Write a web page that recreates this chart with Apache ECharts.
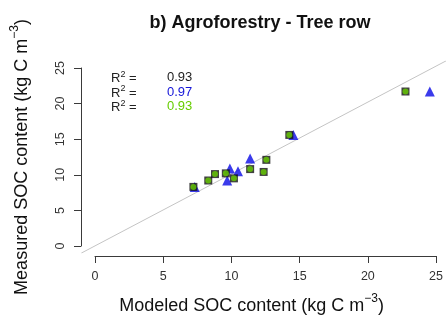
<!DOCTYPE html>
<html>
<head>
<meta charset="utf-8">
<script src="https://cdn.jsdelivr.net/npm/echarts@6/dist/echarts.min.js"></script>
<style>
  html, body { margin: 0; padding: 0; background: #fff; }
  #chart { width: 446px; height: 329px; }
</style>
</head>
<body>
<div id="chart"></div>
<script>
// Tick values shared by both axes
const axisTicks = [0, 5, 10, 15, 20, 25];

// Modeled vs measured SOC (kg C m-3), one pair of arrays per model
const modelBlackX = [7.3, 8.4, 8.9, 9.7, 10.3, 11.5, 12.5, 12.7, 14.4, 23.0];
const modelBlackY = [8.3, 9.2, 10.1, 10.2, 9.5, 10.8, 10.4, 12.1, 15.6, 21.7];
const modelGreenX = [7.3, 8.4, 8.9, 9.7, 10.3, 11.5, 12.5, 12.7, 14.4, 23.0];
const modelGreenY = [8.3, 9.2, 10.1, 10.2, 9.5, 10.8, 10.4, 12.1, 15.6, 21.7];
const modelBlueX = [7.4, 9.8, 10.0, 10.6, 11.5, 14.7, 24.8];
const modelBlueY = [8.3, 9.2, 10.9, 10.5, 12.3, 15.6, 21.7];

// Coefficients of determination, one per model
const r2Labels = ['0.93', '0.97', '0.93'];
const r2Colors = ['#222222', '#1414d8', '#66cd00'];

// 1:1 reference line end points
const identityLine = [-1, 30];

const FONT = 'Liberation Sans, Arial, sans-serif';
const AXIS_COLOR = '#3a3a3a';

function pairs(xs, ys) { return xs.map((x, i) => [x, ys[i]]); }

const chart = echarts.init(document.getElementById('chart'), null, { renderer: 'canvas' });

const r2Graphics = [];
r2Labels.forEach((v, i) => {
  const y = 70 + i * 14.5;
  r2Graphics.push({
    type: 'text', left: 111, top: y,
    style: {
      text: '{r|R}{s|2}{r| = }',
      rich: {
        r: { fontSize: 13, fontFamily: FONT, fill: '#222', verticalAlign: 'bottom', lineHeight: 15 },
        s: { fontSize: 9, fontFamily: FONT, fill: '#222', verticalAlign: 'top', lineHeight: 9 }
      }
    }
  });
  r2Graphics.push({
    type: 'text', left: 167, top: y + 1,
    style: { text: v, fontSize: 13, fontFamily: FONT, fill: r2Colors[i] }
  });
});

const titleRich = {
  a: { fontSize: 18, fontFamily: FONT, color: '#111', lineHeight: 22, verticalAlign: 'bottom' },
  s: { fontSize: 12, fontFamily: FONT, color: '#111', lineHeight: 12, verticalAlign: 'top' }
};

const option = {
  animation: false,
  backgroundColor: '#ffffff',
  title: {
    text: 'b) Agroforestry - Tree row',
    left: 255, top: 9, textAlign: 'center',
    textStyle: { fontFamily: FONT, fontWeight: 'bold', fontSize: 18, color: '#111' }
  },
  grid: [
    // data region (extended a little beyond the tick range)
    { left: 81.3, top: 60.9, width: 368.8, height: 192.2, containLabel: false },
    // axis frame spanning exactly the tick range
    { left: 95, top: 68, width: 341.5, height: 178, containLabel: false }
  ],
  xAxis: [
    { gridIndex: 0, type: 'value', min: -1, max: 26, show: false },
    {
      gridIndex: 1, type: 'value', min: axisTicks[0], max: axisTicks[axisTicks.length - 1], interval: 5,
      offset: 10,
      axisLine: { show: true, onZero: false, lineStyle: { color: AXIS_COLOR, width: 1 } },
      axisTick: { show: true, length: 7, lineStyle: { color: AXIS_COLOR, width: 1 } },
      axisLabel: { fontSize: 12.5, color: '#333', fontFamily: FONT, margin: 14 },
      splitLine: { show: false },
      name: '{a|Modeled SOC content (kg C m}{s|−3}{a|)}',
      nameLocation: 'middle', nameGap: 37,
      nameTextStyle: { padding: [0, 28, 0, 0], rich: titleRich }
    }
  ],
  yAxis: [
    { gridIndex: 0, type: 'value', min: -1, max: 26, show: false },
    {
      gridIndex: 1, type: 'value', min: axisTicks[0], max: axisTicks[axisTicks.length - 1], interval: 5,
      offset: 14,
      axisLine: { show: true, onZero: false, lineStyle: { color: AXIS_COLOR, width: 1 } },
      axisTick: { show: true, length: 7, lineStyle: { color: AXIS_COLOR, width: 1 } },
      axisLabel: { fontSize: 12.5, color: '#333', fontFamily: FONT, margin: 14, rotate: 90 },
      splitLine: { show: false },
      name: '{a|Measured SOC content (kg C m}{s|−3}{a|)}',
      nameLocation: 'middle', nameGap: 50, nameRotate: 90,
      nameTextStyle: { rich: titleRich }
    }
  ],
  series: [
    {
      type: 'line', xAxisIndex: 0, yAxisIndex: 0,
      data: [[identityLine[0], identityLine[0]], [identityLine[1], identityLine[1]]],
      symbol: 'none', clip: true, silent: true,
      lineStyle: { color: '#c4c4c4', width: 1 }, z: 1
    },
    {
      type: 'scatter', xAxisIndex: 0, yAxisIndex: 0,
      data: pairs(modelBlueX, modelBlueY),
      symbol: 'triangle', symbolSize: 10,
      itemStyle: { color: '#0a0ae6' }, z: 2
    },
    {
      type: 'scatter', xAxisIndex: 0, yAxisIndex: 0,
      data: pairs(modelBlackX, modelBlackY),
      symbol: 'rect', symbolSize: 8,
      itemStyle: { color: '#111' }, z: 3
    },
    {
      type: 'scatter', xAxisIndex: 0, yAxisIndex: 0,
      data: pairs(modelGreenX, modelGreenY),
      symbol: 'circle', symbolSize: 6,
      itemStyle: { color: '#66cd00' }, z: 4
    }
  ],
  graphic: r2Graphics
};

chart.setOption(option);
</script>
</body>
</html>
